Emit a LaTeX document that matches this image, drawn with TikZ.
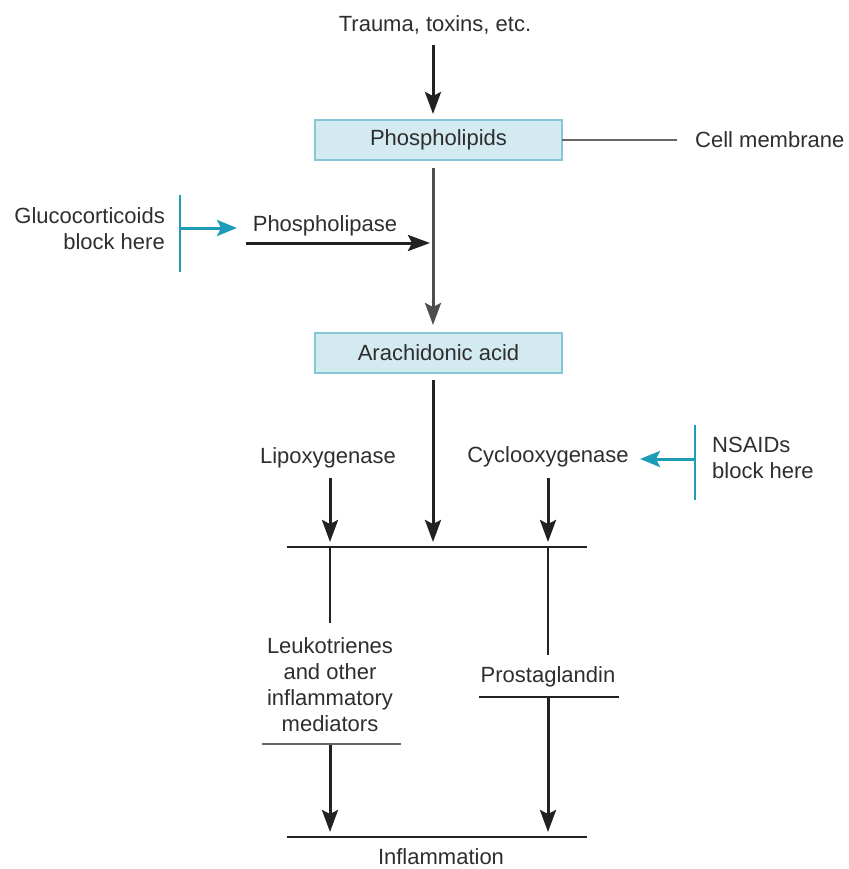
\documentclass[tikz,border=0pt]{standalone}
\usepackage{fontspec}
\setmainfont{Liberation Sans}
\usetikzlibrary{arrows.meta}
\definecolor{boxfill}{HTML}{D2EAF0}
\definecolor{boxline}{HTML}{86C6D6}
\definecolor{teal1}{HTML}{1C9CB8}
\definecolor{txt}{HTML}{2E2E2E}
\definecolor{ln}{HTML}{222222}
\tikzset{
  lbl/.style={font=\fontsize{22}{26}\selectfont, text=txt, inner sep=0pt},
  boxnode/.style={lbl, draw=boxline, fill=boxfill, line width=2pt, minimum width=247pt, minimum height=40pt},
  arr/.style={draw=ln, line width=3pt, -{Stealth[length=22pt,width=16pt,inset=4pt]}},
  tarr/.style={draw=teal1, line width=3pt, -{Stealth[length=20pt,width=16pt,inset=4pt]}},
  plain/.style={draw=ln, line width=2.8pt},
  gline/.style={draw=gray!80!black, line width=2.8pt},
  tbar/.style={draw=teal1, line width=2.8pt}
}
\begin{document}
\begin{tikzpicture}[x=1pt,y=-1pt]
\useasboundingbox (0,0) rectangle (848,869);
\node[lbl] (trauma) at (435,25) {Trauma, toxins, etc.};
\node[boxnode] (phos) at (438.5,140) {Phospholipids};
\node[lbl, anchor=west] (cell) at (695,140) {Cell membrane};
\coordinate (cmL) at (562,140);
\coordinate (cmR) at (677,140);
\draw[gline] (cmL) -- (cmR);
\coordinate (tA) at (433,45);
\coordinate (tB) at (433,114);
\draw[arr] (tA) -- (tB);

\node[boxnode] (arach) at (438.5,353) {Arachidonic acid};
\coordinate (p1) at (433,168);
\coordinate (p2) at (433,325);
\draw[arr, draw=ln!80] (p1) -- (p2);

% glucocorticoids
\node[lbl, align=right, anchor=east] (gluco) at (165,229) {Glucocorticoids\\block here};
\coordinate (gb1) at (180,195);
\coordinate (gb2) at (180,272);
\draw[tbar] (gb1) -- (gb2);
\coordinate (ga1) at (181,228);
\coordinate (ga2) at (237,228);
\draw[tarr] (ga1) -- (ga2);
\node[lbl] (plase) at (325,226) {Phospholipase};
\coordinate (pa1) at (246,243);
\coordinate (pa2) at (430,243);
\draw[arr] (pa1) -- (pa2);

% second stage
\node[lbl] (lipo) at (328,458) {Lipoxygenase};
\node[lbl] (cyclo) at (548,457) {Cyclooxygenase};
\coordinate (a1) at (433,380);
\coordinate (a2) at (433,542);
\draw[arr] (a1) -- (a2);
\coordinate (l1) at (330,478);
\coordinate (l2) at (330,542);
\draw[arr] (l1) -- (l2);
\coordinate (c1) at (548,478);
\coordinate (c2) at (548,542);
\draw[arr] (c1) -- (c2);
\coordinate (h1L) at (287,547);
\coordinate (h1R) at (587,547);
\draw[plain] (h1L) -- (h1R);

% NSAIDs
\node[lbl, align=left, anchor=west] (nsaid) at (712,458) {NSAIDs\\block here};
\coordinate (nb1) at (695,425);
\coordinate (nb2) at (695,500);
\draw[tbar] (nb1) -- (nb2);
\coordinate (na1) at (694,459);
\coordinate (na2) at (640,459);
\draw[tarr] (na1) -- (na2);

% products
\coordinate (lv1) at (330,548);
\coordinate (lv2) at (330,623);
\draw[plain] (lv1) -- (lv2);
\coordinate (pv1) at (548,548);
\coordinate (pv2) at (548,655);
\draw[plain] (pv1) -- (pv2);
\node[lbl, align=center] (leuko) at (330,685) {Leukotrienes\\and other\\inflammatory\\mediators};
\coordinate (lh1) at (262,744);
\coordinate (lh2) at (401,744);
\draw[gline] (lh1) -- (lh2);
\node[lbl] (prosta) at (548,677) {Prostaglandin};
\coordinate (ph1) at (479,697);
\coordinate (ph2) at (619,697);
\draw[plain] (ph1) -- (ph2);
\coordinate (la1) at (330,745);
\coordinate (la2) at (330,832);
\draw[arr] (la1) -- (la2);
\coordinate (pa3) at (548,698);
\coordinate (pa4) at (548,832);
\draw[arr] (pa3) -- (pa4);
\coordinate (bL) at (287,837);
\coordinate (bR) at (587,837);
\draw[plain] (bL) -- (bR);
\node[lbl] (infl) at (441,857) {Inflammation};
\end{tikzpicture}
\end{document}
